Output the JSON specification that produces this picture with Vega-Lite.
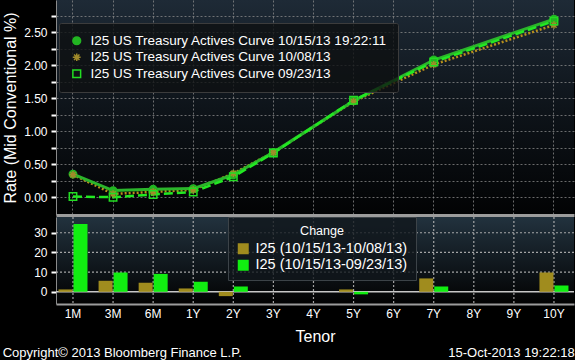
{
  "$schema": "https://vega.github.io/schema/vega-lite/v6.json",
  "background": "#000000",
  "padding": {"left": 2, "top": 0, "right": 0, "bottom": 0},
  "autosize": {"type": "pad"},
  "datasets": {
    "curves": [
      {"tenor": "1M", "curve": "I25 US Treasury Actives Curve 10/15/13 19:22:11", "rate": 0.35},
      {"tenor": "3M", "curve": "I25 US Treasury Actives Curve 10/15/13 19:22:11", "rate": 0.10},
      {"tenor": "6M", "curve": "I25 US Treasury Actives Curve 10/15/13 19:22:11", "rate": 0.12},
      {"tenor": "1Y", "curve": "I25 US Treasury Actives Curve 10/15/13 19:22:11", "rate": 0.13},
      {"tenor": "2Y", "curve": "I25 US Treasury Actives Curve 10/15/13 19:22:11", "rate": 0.34},
      {"tenor": "3Y", "curve": "I25 US Treasury Actives Curve 10/15/13 19:22:11", "rate": 0.68},
      {"tenor": "5Y", "curve": "I25 US Treasury Actives Curve 10/15/13 19:22:11", "rate": 1.46},
      {"tenor": "7Y", "curve": "I25 US Treasury Actives Curve 10/15/13 19:22:11", "rate": 2.08},
      {"tenor": "10Y", "curve": "I25 US Treasury Actives Curve 10/15/13 19:22:11", "rate": 2.70},
      {"tenor": "1M", "curve": "I25 US Treasury Actives Curve 10/08/13", "rate": 0.34},
      {"tenor": "3M", "curve": "I25 US Treasury Actives Curve 10/08/13", "rate": 0.05},
      {"tenor": "6M", "curve": "I25 US Treasury Actives Curve 10/08/13", "rate": 0.08},
      {"tenor": "1Y", "curve": "I25 US Treasury Actives Curve 10/08/13", "rate": 0.11},
      {"tenor": "2Y", "curve": "I25 US Treasury Actives Curve 10/08/13", "rate": 0.36},
      {"tenor": "3Y", "curve": "I25 US Treasury Actives Curve 10/08/13", "rate": 0.68},
      {"tenor": "5Y", "curve": "I25 US Treasury Actives Curve 10/08/13", "rate": 1.45},
      {"tenor": "7Y", "curve": "I25 US Treasury Actives Curve 10/08/13", "rate": 2.01},
      {"tenor": "10Y", "curve": "I25 US Treasury Actives Curve 10/08/13", "rate": 2.61},
      {"tenor": "1M", "curve": "I25 US Treasury Actives Curve 09/23/13", "rate": 0.01},
      {"tenor": "3M", "curve": "I25 US Treasury Actives Curve 09/23/13", "rate": 0.00},
      {"tenor": "6M", "curve": "I25 US Treasury Actives Curve 09/23/13", "rate": 0.04},
      {"tenor": "1Y", "curve": "I25 US Treasury Actives Curve 09/23/13", "rate": 0.08},
      {"tenor": "2Y", "curve": "I25 US Treasury Actives Curve 09/23/13", "rate": 0.31},
      {"tenor": "3Y", "curve": "I25 US Treasury Actives Curve 09/23/13", "rate": 0.67},
      {"tenor": "5Y", "curve": "I25 US Treasury Actives Curve 09/23/13", "rate": 1.47},
      {"tenor": "7Y", "curve": "I25 US Treasury Actives Curve 09/23/13", "rate": 2.05},
      {"tenor": "10Y", "curve": "I25 US Treasury Actives Curve 09/23/13", "rate": 2.67}
    ],
    "changes": [
      {"tenor": "1M", "series": "I25 (10/15/13-10/08/13)", "chg": 1.2},
      {"tenor": "3M", "series": "I25 (10/15/13-10/08/13)", "chg": 5.6},
      {"tenor": "6M", "series": "I25 (10/15/13-10/08/13)", "chg": 4.6},
      {"tenor": "1Y", "series": "I25 (10/15/13-10/08/13)", "chg": 1.7},
      {"tenor": "2Y", "series": "I25 (10/15/13-10/08/13)", "chg": -2.2},
      {"tenor": "3Y", "series": "I25 (10/15/13-10/08/13)", "chg": 0},
      {"tenor": "5Y", "series": "I25 (10/15/13-10/08/13)", "chg": 1.2},
      {"tenor": "7Y", "series": "I25 (10/15/13-10/08/13)", "chg": 6.8},
      {"tenor": "10Y", "series": "I25 (10/15/13-10/08/13)", "chg": 9.8},
      {"tenor": "1M", "series": "I25 (10/15/13-09/23/13)", "chg": 34.4},
      {"tenor": "3M", "series": "I25 (10/15/13-09/23/13)", "chg": 9.8},
      {"tenor": "6M", "series": "I25 (10/15/13-09/23/13)", "chg": 9.1},
      {"tenor": "1Y", "series": "I25 (10/15/13-09/23/13)", "chg": 5.1},
      {"tenor": "2Y", "series": "I25 (10/15/13-09/23/13)", "chg": 2.7},
      {"tenor": "3Y", "series": "I25 (10/15/13-09/23/13)", "chg": 0},
      {"tenor": "5Y", "series": "I25 (10/15/13-09/23/13)", "chg": -1.3},
      {"tenor": "7Y", "series": "I25 (10/15/13-09/23/13)", "chg": 2.7},
      {"tenor": "10Y", "series": "I25 (10/15/13-09/23/13)", "chg": 3.2}
    ],
    "tenors": [
      {"tenor": "1M"}, {"tenor": "3M"}, {"tenor": "6M"}, {"tenor": "1Y"}, {"tenor": "2Y"}, {"tenor": "3Y"}, {"tenor": "4Y"},
      {"tenor": "5Y"}, {"tenor": "6Y"}, {"tenor": "7Y"}, {"tenor": "8Y"}, {"tenor": "9Y"}, {"tenor": "10Y"}
    ],
    "chgGrid": [{"v": 10}, {"v": 20}, {"v": 30}],
    "zero": [{"v": 0}]
  },
  "title": {"text": "Copyright© 2013 Bloomberg Finance L.P.", "orient": "bottom", "anchor": "start", "fontSize": 13, "fontWeight": "normal", "color": "#ffffff", "font": "Liberation Sans", "offset": 0, "dy": -13},
  "spacing": 2,
  "bounds": "flush",
  "resolve": {"scale": {"x": "independent", "y": "independent", "color": "independent", "fill": "independent", "stroke": "independent", "shape": "independent"}},
  "vconcat": [
    {
      "width": 518,
      "height": 215,
      "view": {"stroke": null, "fill": {"gradient": "linear", "x1": 0, "y1": 0, "x2": 0, "y2": 1, "stops": [{"offset": 0, "color": "#1e2a36"}, {"offset": 0.5, "color": "#0e141a"}, {"offset": 1, "color": "#020304"}]}},
      "data": {"name": "curves"},
      "encoding": {
        "x": {"field": "tenor", "type": "ordinal",
          "scale": {"type": "band", "domain": ["1M","3M","6M","1Y","2Y","3Y","4Y","5Y","6Y","7Y","8Y","9Y","10Y"], "paddingInner": 0.2765, "paddingOuter": 0.1, "align": 0.31},
          "axis": {"orient": "bottom", "labels": false, "ticks": false, "title": null, "grid": true, "bandPosition": 0.5, "gridColor": "#8c8c8c", "gridDash": [2, 2], "gridOpacity": 0.75, "domainColor": "#9c9c9c", "domainWidth": 3}},
        "y": {"field": "rate", "type": "quantitative",
          "scale": {"domain": [-0.27, 2.99], "nice": false, "zero": false},
          "axis": {"orient": "left", "values": [0, 0.25, 0.5, 0.75, 1, 1.25, 1.5, 1.75, 2, 2.25, 2.5, 2.75],
            "labelExpr": "(datum.value * 4) % 2 == 0 ? format(datum.value, '.2f') : ''",
            "labelColor": "#ffffff", "labelFontSize": 12, "labelPadding": 4, "labelOverlap": false,
            "tickColor": "#ffffff", "tickSize": 5, "tickWidth": 2,
            "domainColor": "#8a8a8a", "domainWidth": 1,
            "gridColor": "#8c8c8c", "gridDash": [2, 2], "gridOpacity": 0.75,
            "title": "Rate (Mid Conventional %)", "titleColor": "#ffffff", "titleFontSize": 16, "titleFontWeight": "normal", "titlePadding": 5}}
      },
      "layer": [
        {"transform": [{"filter": "datum.curve == 'I25 US Treasury Actives Curve 10/08/13'"}],
         "mark": {"type": "line", "color": "#b8901c", "strokeWidth": 2.5, "strokeDash": [2, 2]}},
        {"transform": [{"filter": "datum.curve == 'I25 US Treasury Actives Curve 10/15/13 19:22:11'"}],
         "mark": {"type": "line", "color": "#2bb52b", "strokeWidth": 3}},
        {"transform": [{"filter": "datum.curve == 'I25 US Treasury Actives Curve 09/23/13'"}],
         "mark": {"type": "line", "color": "#22e822", "strokeWidth": 2.5, "strokeDash": [9, 4]}},
        {"mark": {"type": "point", "size": 55, "strokeWidth": 1.5, "opacity": 1},
         "encoding": {
           "fill": {"field": "curve", "type": "nominal",
             "scale": {"domain": ["I25 US Treasury Actives Curve 10/15/13 19:22:11", "I25 US Treasury Actives Curve 10/08/13", "I25 US Treasury Actives Curve 09/23/13"], "range": ["#22b522", "#a08a2a", "transparent"]},
             "legend": {"orient": "none", "legendX": 3, "legendY": 23, "title": null, "labelColor": "#ffffff", "labelFontSize": 13.5, "labelLimit": 0, "padding": 11, "fillColor": "rgba(14,16,18,0.8)", "strokeColor": "#3c3c3c", "cornerRadius": 2, "rowPadding": 1.5, "labelOffset": 7, "symbolSize": 60, "symbolStrokeWidth": 1.5}},
           "stroke": {"field": "curve", "type": "nominal",
             "scale": {"domain": ["I25 US Treasury Actives Curve 10/15/13 19:22:11", "I25 US Treasury Actives Curve 10/08/13", "I25 US Treasury Actives Curve 09/23/13"], "range": ["#22b522", "#a08a2a", "#22dd22"]}},
           "shape": {"field": "curve", "type": "nominal",
             "scale": {"domain": ["I25 US Treasury Actives Curve 10/15/13 19:22:11", "I25 US Treasury Actives Curve 10/08/13", "I25 US Treasury Actives Curve 09/23/13"], "range": ["circle", "M0,-1L0,1M-1,0L1,0M-0.7,-0.7L0.7,0.7M-0.7,0.7L0.7,-0.7", "square"]}}
         }}
      ]
    },
    {
      "width": 518,
      "height": 87,
      "view": {"stroke": null, "fill": {"gradient": "linear", "x1": 0, "y1": 0, "x2": 0, "y2": 1, "stops": [{"offset": 0, "color": "#22323e"}, {"offset": 1, "color": "#020202"}]}},
      "title": {"text": "15-Oct-2013 19:22:18", "orient": "bottom", "anchor": "end", "fontSize": 13, "fontWeight": "normal", "color": "#ffffff", "font": "Liberation Sans", "offset": 2},
      "layer": [
        {"data": {"name": "tenors"},
         "mark": {"type": "rule", "color": "#b4b4b4", "strokeDash": [2, 2], "opacity": 0.9, "strokeWidth": 1.2},
         "encoding": {
           "x": {"field": "tenor", "type": "ordinal",
             "scale": {"type": "band", "domain": ["1M","3M","6M","1Y","2Y","3Y","4Y","5Y","6Y","7Y","8Y","9Y","10Y"], "paddingInner": 0.2765, "paddingOuter": 0.1, "align": 0.31},
             "axis": {"orient": "bottom", "title": "Tenor", "titleColor": "#ffffff", "titleFontSize": 16, "titleFontWeight": "normal", "titlePadding": 9, "labelColor": "#ffffff", "labelFontSize": 12, "labelAngle": 0, "labelPadding": 4.5, "ticks": false, "grid": false, "domainColor": "#9c9c9c", "domainWidth": 2}}
         }},
        {"data": {"name": "chgGrid"},
         "mark": {"type": "rule", "color": "#b4b4b4", "strokeDash": [2, 2], "opacity": 0.9, "strokeWidth": 1.2},
         "encoding": {
           "y": {"field": "v", "type": "quantitative",
             "scale": {"domain": [-6.2, 38], "nice": false, "zero": false},
             "axis": {"orient": "left", "values": [0, 10, 20, 30], "title": null, "labelColor": "#ffffff", "labelFontSize": 12, "labelPadding": 4, "labelOverlap": false, "tickColor": "#ffffff", "tickSize": 5, "tickWidth": 2, "domainColor": "#8a8a8a", "domainWidth": 1, "grid": false}}
         }},
        {"data": {"name": "zero"},
         "mark": {"type": "rule", "color": "#c8c8c8", "strokeWidth": 1.5},
         "encoding": {
           "y": {"field": "v", "type": "quantitative",
             "scale": {"domain": [-6.2, 38], "nice": false, "zero": false},
             "axis": {"orient": "left", "values": [0, 10, 20, 30], "title": null, "labelColor": "#ffffff", "labelFontSize": 12, "labelPadding": 4, "labelOverlap": false, "tickColor": "#ffffff", "tickSize": 5, "tickWidth": 2, "domainColor": "#8a8a8a", "domainWidth": 1, "grid": false}}
         }},
        {"data": {"name": "changes"},
         "mark": {"type": "bar"},
         "encoding": {
           "x": {"field": "tenor", "type": "ordinal",
             "scale": {"type": "band", "domain": ["1M","3M","6M","1Y","2Y","3Y","4Y","5Y","6Y","7Y","8Y","9Y","10Y"], "paddingInner": 0.2765, "paddingOuter": 0.1, "align": 0.31},
             "axis": {"orient": "bottom", "title": "Tenor", "titleColor": "#ffffff", "titleFontSize": 16, "titleFontWeight": "normal", "titlePadding": 9, "labelColor": "#ffffff", "labelFontSize": 12, "labelAngle": 0, "labelPadding": 4.5, "ticks": false, "grid": false, "domainColor": "#9c9c9c", "domainWidth": 2}},
           "y": {"field": "chg", "type": "quantitative",
             "scale": {"domain": [-6.2, 38], "nice": false, "zero": false},
             "axis": {"orient": "left", "values": [0, 10, 20, 30], "title": null, "labelColor": "#ffffff", "labelFontSize": 12, "labelPadding": 4, "labelOverlap": false, "tickColor": "#ffffff", "tickSize": 5, "tickWidth": 2, "domainColor": "#8a8a8a", "domainWidth": 1, "grid": false}},
           "xOffset": {"field": "series", "type": "nominal", "scale": {"domain": ["I25 (10/15/13-10/08/13)", "I25 (10/15/13-09/23/13)"], "paddingInner": 0.07, "paddingOuter": 0}},
           "color": {"field": "series", "type": "nominal",
             "scale": {"domain": ["I25 (10/15/13-10/08/13)", "I25 (10/15/13-09/23/13)"], "range": ["#a08c1e", "#11ee11"]},
             "legend": {"orient": "none", "legendX": 172, "legendY": 0, "title": "Change", "titleColor": "#ffffff", "titleFontSize": 12.5, "titleFontWeight": "normal", "titleAnchor": "middle", "titlePadding": 4, "labelColor": "#ffffff", "labelFontSize": 14.5, "symbolType": "square", "symbolSize": 121, "symbolStrokeWidth": 0, "padding": 8, "fillColor": "rgba(16,22,28,0.8)", "strokeColor": "#3c4348", "rowPadding": 1.5, "labelOffset": 5}}
         }}
      ]
    }
  ],
  "config": {
    "font": "Liberation Sans",
    "view": {"stroke": null},
    "axis": {"labelFont": "Liberation Sans", "titleFont": "Liberation Sans"},
    "legend": {"labelFont": "Liberation Sans", "titleFont": "Liberation Sans"}
  }
}
